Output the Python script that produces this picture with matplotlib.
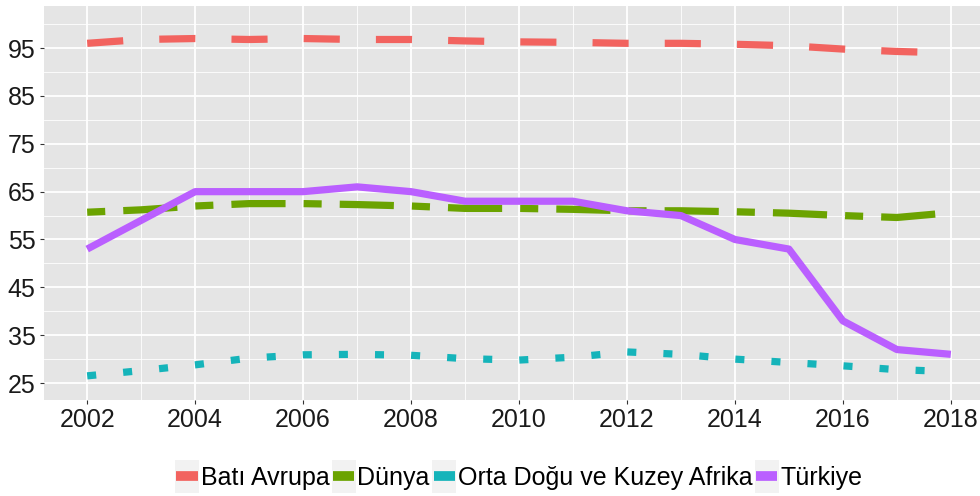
import matplotlib
matplotlib.use("Agg")
import matplotlib.pyplot as plt
from matplotlib.lines import Line2D
from matplotlib.patches import Rectangle
from matplotlib.legend_handler import HandlerBase
from matplotlib.ticker import MultipleLocator

plt.rcParams["font.family"] = ["Liberation Sans", "DejaVu Sans"]
plt.rcParams["lines.scale_dashes"] = False

years = list(range(2002, 2019))
bati_avrupa = [96.0, 96.8, 97.0, 96.8, 97.0, 96.8, 96.8, 96.5, 96.3, 96.2, 96.0, 96.0, 95.8, 95.5, 94.8, 94.3, 94.0]
dunya = [60.7, 61.2, 62.0, 62.5, 62.5, 62.3, 62.0, 61.5, 61.5, 61.3, 61.0, 61.0, 60.8, 60.5, 60.0, 59.6, 60.6]
orta_dogu = [26.5, 27.6, 28.8, 30.2, 30.9, 31.0, 30.8, 30.1, 29.8, 30.4, 31.5, 31.0, 30.0, 29.3, 28.6, 27.8, 27.4]
turkiye = [53.0, 59.0, 65.0, 65.0, 65.0, 66.0, 65.0, 63.0, 63.0, 63.0, 61.0, 60.0, 55.0, 53.0, 38.0, 32.0, 31.0]

names = ["Batı Avrupa", "Dünya", "Orta Doğu ve Kuzey Afrika", "Türkiye"]
colors = ["#F2635F", "#6BA300", "#15B4BA", "#BA5FFF"]
dash_styles = [(0, (26, 26)), (0, (13, 13, 39, 13)), (0, (6.5, 19.5)), "-"]


class KeyHandler(HandlerBase):
    # gray key box with a thick colored bar, like ggplot legend keys
    def create_artists(self, legend, orig_handle, xdescent, ydescent,
                       width, height, fontsize, trans):
        box = Rectangle((-xdescent - 1, -ydescent - 0.45 * height), width + 2, height * 1.9,
                        facecolor="#F2F2F2", edgecolor="none", transform=trans)
        ln = Line2D([-xdescent, -xdescent + width], [height / 2 - ydescent] * 2,
                    color=orig_handle.get_color(), linewidth=7, solid_capstyle="butt",
                    transform=trans)
        return [box, ln]


fig = plt.figure(figsize=(9.8, 4.96), dpi=100)
ax = fig.add_axes([0.0449, 0.1935, 0.9694, 0.7944])
ax.set_facecolor("#E5E5E5")

series = [bati_avrupa, dunya, orta_dogu, turkiye]
for vals, col, ls in zip(series, colors, dash_styles):
    ax.plot(years, vals, color=col, linestyle=ls, linewidth=5.2,
            dash_capstyle="butt", solid_capstyle="butt", zorder=3)

ax.set_xlim(2001.2, 2018.8)
ax.set_ylim(21.45, 103.8)
ax.xaxis.set_major_locator(MultipleLocator(2))
ax.xaxis.set_minor_locator(MultipleLocator(1))
ax.set_yticks([25, 35, 45, 55, 65, 75, 85, 95])
ax.set_yticks([30, 40, 50, 60, 70, 80, 90, 100], minor=True)

ax.grid(which="major", color="white", linewidth=1.3, zorder=0)
ax.grid(which="minor", color="white", linewidth=0.6, zorder=0)
ax.set_axisbelow(True)
for sp in ax.spines.values():
    sp.set_visible(False)
ax.tick_params(which="major", length=3, color="#333333", labelsize=18,
               labelcolor="#1a1a1a", pad=3)
ax.tick_params(which="minor", length=0)

handles = [Line2D([0], [0], color=c) for c in colors]
leg = fig.legend(handles, names, loc="center", bbox_to_anchor=(0.53, 0.036),
                 ncol=4, frameon=False, fontsize=18, handlelength=0.85,
                 handletextpad=0.12, columnspacing=0.15,
                 handler_map={Line2D: KeyHandler()})

fig.savefig("out.png", dpi=100)
